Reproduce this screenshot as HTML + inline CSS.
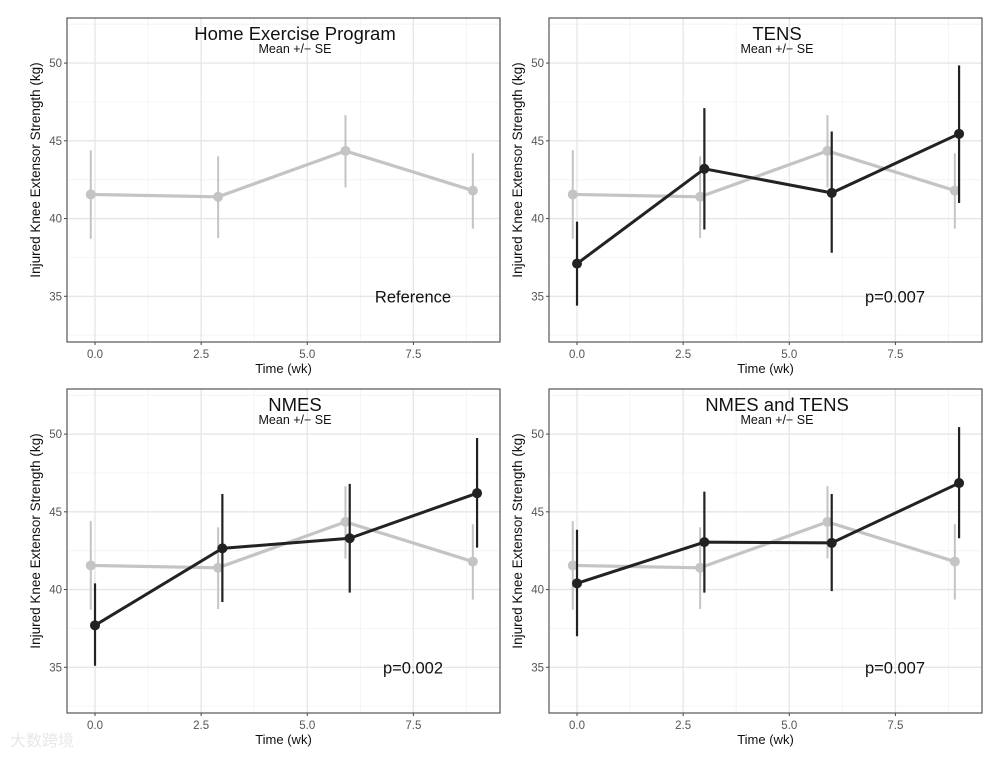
<!DOCTYPE html>
<html><head><meta charset="utf-8">
<style>
body{margin:0;background:#fff;font-family:"Liberation Sans",Arial,sans-serif;}
svg text{font-family:"Liberation Sans","Noto Sans CJK SC",sans-serif;}
</style></head>
<body>
<svg id="chart" width="1008" height="756" viewBox="0 0 1008 756" xmlns="http://www.w3.org/2000/svg"></svg>
<script>
// shared data
const weeks = [0, 3, 6, 9];
const refMean = [41.55, 41.4, 44.35, 41.8];
const refLo = [38.7, 38.75, 42.0, 39.35];
const refHi = [44.4, 44.0, 46.65, 44.2];
const panelTitles = ["Home Exercise Program", "TENS", "NMES", "NMES and TENS"];
const panelNotes = ["Reference", "p=0.007", "p=0.002", "p=0.007"];
const tensMean = [37.1, 43.2, 41.65, 45.45];
const tensLo = [34.4, 39.3, 37.8, 41.0];
const tensHi = [39.8, 47.1, 45.6, 49.85];
const nmesMean = [37.7, 42.65, 43.3, 46.2];
const nmesLo = [35.1, 39.2, 39.8, 42.7];
const nmesHi = [40.4, 46.15, 46.8, 49.75];
const bothMean = [40.4, 43.05, 43.0, 46.85];
const bothLo = [37.0, 39.8, 39.9, 43.3];
const bothHi = [43.85, 46.3, 46.15, 50.45];
const xTicks = [0, 2.5, 5, 7.5];
const xTickLabels = ["0.0", "2.5", "5.0", "7.5"];
const yTicks = [35, 40, 45, 50];
const xMinor = [1.25, 3.75, 6.25, 8.75];
const yMinor = [32.5, 37.5, 42.5, 47.5, 52.5];

const series = [null,
  {m: tensMean, lo: tensLo, hi: tensHi},
  {m: nmesMean, lo: nmesLo, hi: nmesHi},
  {m: bothMean, lo: bothLo, hi: bothHi}];

const NS = "http://www.w3.org/2000/svg";
const svg = document.getElementById('chart');
function el(tag, attrs, parent, txt) {
  const e = document.createElementNS(NS, tag);
  for (const k in attrs) e.setAttribute(k, attrs[k]);
  if (txt !== undefined) e.textContent = txt;
  parent.appendChild(e);
  return e;
}
const panels = [{x0: 67, y0: 18}, {x0: 549, y0: 18}, {x0: 67, y0: 389}, {x0: 549, y0: 389}];
const W = 433, H = 324;
const xDom = [-0.66, 9.54], yDom = [32.06, 52.9];

panels.forEach((p, i) => {
  const g = el('g', {}, svg);
  
  
  const X = v => p.x0 + (v - xDom[0]) / (xDom[1] - xDom[0]) * W;
  const Y = v => p.y0 + H - (v - yDom[0]) / (yDom[1] - yDom[0]) * H;
  xMinor.forEach(v => { const l = el('line', {x1: X(v), x2: X(v), y1: p.y0, y2: p.y0 + H, stroke: '#f4f4f4', 'stroke-width': 1}, g);   });
  yMinor.forEach(v => { if (v > yDom[1]) return; const l = el('line', {x1: p.x0, x2: p.x0 + W, y1: Y(v), y2: Y(v), stroke: '#f4f4f4', 'stroke-width': 1}, g);   });
  xTicks.forEach((v, k) => {
    const l = el('line', {x1: X(v), x2: X(v), y1: p.y0, y2: p.y0 + H, stroke: '#e6e6e6', 'stroke-width': 1.3}, g);
     
    el('line', {x1: X(v), x2: X(v), y1: p.y0 + H, y2: p.y0 + H + 3, stroke: '#444'}, g);
    const t = el('text', {x: X(v), y: p.y0 + H + 16, 'text-anchor': 'middle', 'font-size': 11.5, fill: '#555'}, g, xTickLabels[k]);
     
  });
  yTicks.forEach(v => {
    const l = el('line', {x1: p.x0, x2: p.x0 + W, y1: Y(v), y2: Y(v), stroke: '#e6e6e6', 'stroke-width': 1.3}, g);
     
    el('line', {x1: p.x0 - 3, x2: p.x0, y1: Y(v), y2: Y(v), stroke: '#444'}, g);
    const t = el('text', {x: p.x0 - 5, y: Y(v) + 4, 'text-anchor': 'end', 'font-size': 11.5, fill: '#555'}, g, String(v));
     
  });
  const b = el('rect', {x: p.x0, y: p.y0, width: W, height: H, fill: 'none', stroke: '#555', 'stroke-width': 1.2}, g);
   
  const xt = el('text', {x: p.x0 + W / 2, y: p.y0 + H + 31, 'text-anchor': 'middle', 'font-size': 13, fill: '#111'}, g, 'Time (wk)');
   
  const yx = p.x0 - 27, yy = p.y0 + 152;
  const yt = el('text', {x: yx, y: yy, 'text-anchor': 'middle', 'font-size': 13.5, fill: '#111', transform: `rotate(-90 ${yx} ${yy})`}, g, 'Injured Knee Extensor Strength (kg)');
   
  const tt = el('text', {x: p.x0 + 228, y: p.y0 + 22, 'text-anchor': 'middle', 'font-size': 18.5, fill: '#111'}, g, panelTitles[i]);
   
  const st = el('text', {x: p.x0 + 228, y: p.y0 + 35, 'text-anchor': 'middle', 'font-size': 12.5, fill: '#111'}, g, 'Mean +/\u2212 SE');
   
  const gx = weeks.map(w => X(w - 0.1));
  const pts = refMean.map((m, k) => gx[k] + ',' + Y(m)).join(' ');
  refMean.forEach((m, k) => {
    const e = el('line', {x1: gx[k], x2: gx[k], y1: Y(refLo[k]), y2: Y(refHi[k]), stroke: '#c4c4c4', 'stroke-width': 2}, g);
     
  });
  const rl = el('polyline', {points: pts, fill: 'none', stroke: '#c4c4c4', 'stroke-width': 3.2}, g);
   
  refMean.forEach((m, k) => {
    const c = el('circle', {cx: gx[k], cy: Y(m), r: 5, fill: '#c4c4c4'}, g);
     
  });
  const s = series[i];
  if (s) {
    const dx = weeks.map(w => X(w));
    s.m.forEach((m, k) => {
      const e = el('line', {x1: dx[k], x2: dx[k], y1: Y(s.lo[k]), y2: Y(s.hi[k]), stroke: '#222', 'stroke-width': 2.2}, g);
       
    });
    const tl = el('polyline', {points: s.m.map((m, k) => dx[k] + ',' + Y(m)).join(' '), fill: 'none', stroke: '#222', 'stroke-width': 3}, g);
     
    s.m.forEach((m, k) => {
      const c = el('circle', {cx: dx[k], cy: Y(m), r: 5, fill: '#222'}, g);
       
    });
  }
  const nx = p.x0 + 346;
  const nt = el('text', {x: nx, y: Y(35) + 6, 'text-anchor': 'middle', 'font-size': 16.5, fill: '#111'}, g, panelNotes[i]);
   
});
const wm = el('text', {x: 10, y: 746, 'font-size': 16, fill: '#e8e8e8'}, svg, '大数跨境');
 
</script>
</body></html>
